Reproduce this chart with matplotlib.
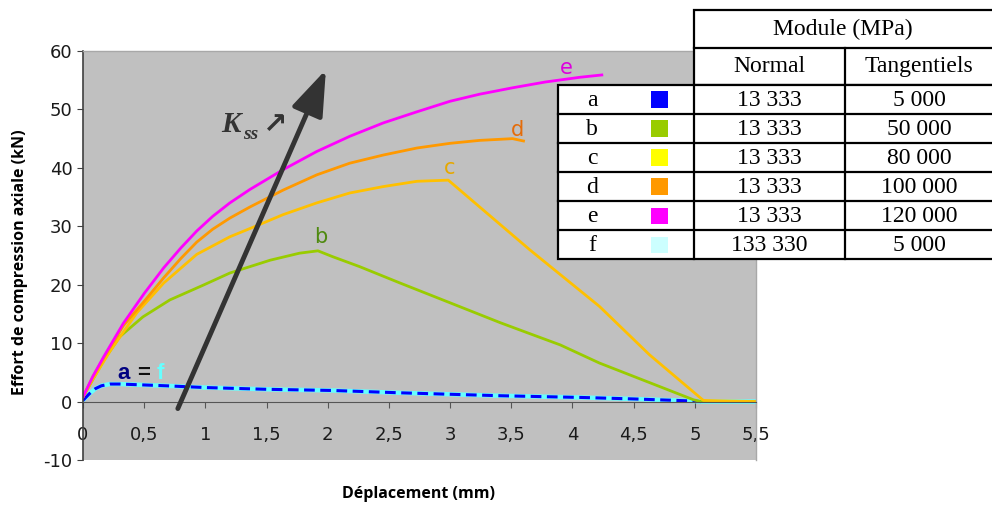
import matplotlib
matplotlib.use('Agg')
import matplotlib.pyplot as plt
from matplotlib.patches import Rectangle

plt.rcParams['axes.unicode_minus'] = False

# curves: displacement (mm) / axial force (kN)
e_x = [0, 0.08, 0.17, 0.33, 0.5, 0.66, 0.8, 0.93, 1.06, 1.2, 1.364, 1.636, 1.91, 2.18, 2.455, 2.73, 3.0, 3.24, 3.51, 3.78, 4.06, 4.24]
e_y = [0.8, 4.3, 7.7, 13.4, 18.5, 22.9, 26.3, 29.2, 31.7, 34.0, 36.3, 39.7, 42.8, 45.4, 47.7, 49.6, 51.4, 52.6, 53.7, 54.7, 55.5, 55.9]

d_x = [0, 0.08, 0.17, 0.33, 0.51, 0.66, 0.8, 0.93, 1.06, 1.2, 1.364, 1.636, 1.91, 2.18, 2.455, 2.73, 3.0, 3.24, 3.51, 3.6]
d_y = [0.8, 4.2, 7.5, 13.0, 17.4, 21.2, 24.5, 27.3, 29.5, 31.4, 33.3, 36.2, 38.8, 40.8, 42.2, 43.4, 44.2, 44.7, 45.0, 44.6]

c_x = [0, 0.08, 0.22, 0.44, 0.66, 0.93, 1.2, 1.42, 1.636, 1.91, 2.18, 2.455, 2.73, 2.985, 3.65, 4.22, 4.63, 5.07, 5.5]
c_y = [0.8, 3.8, 8.6, 15.2, 20.3, 25.2, 28.2, 30.1, 32.0, 34.0, 35.7, 36.8, 37.7, 37.9, 26.0, 16.3, 8.0, 0.2, 0.0]

b_x = [0, 0.17, 0.3, 0.49, 0.71, 0.98, 1.2, 1.53, 1.77, 1.92, 2.04, 2.26, 2.59, 2.94, 3.41, 3.68, 3.9, 4.22, 4.99, 5.05, 5.5]
b_y = [0.8, 7.1, 11.1, 14.5, 17.4, 19.9, 22.0, 24.2, 25.4, 25.8, 24.8, 23.1, 20.3, 17.4, 13.5, 11.4, 9.7, 6.6, 0.3, 0.0, 0.0]

a_x = [0, 0.05, 0.1, 0.15, 0.22, 0.3, 0.68, 1.0, 1.5, 2.04, 2.59, 3.0, 3.41, 4.08, 4.5, 4.98, 5.05]
a_y = [0.2, 1.3, 2.2, 2.7, 3.0, 3.0, 2.7, 2.4, 2.1, 1.9, 1.5, 1.25, 1.0, 0.7, 0.45, 0.1, 0.0]
f_x = a_x + [5.5]
f_y = a_y + [0.0]

# legend table
tab_names = ['a', 'b', 'c', 'd', 'e', 'f']
tab_colors = ['#0000ff', '#99cc00', '#ffff00', '#ff9900', '#ff00ff', '#ccffff']
tab_normal = ['13 333', '13 333', '13 333', '13 333', '13 333', '133 330']
tab_tang = ['5 000', '50 000', '80 000', '100 000', '120 000', '5 000']

xticks = [0, 0.5, 1, 1.5, 2, 2.5, 3, 3.5, 4, 4.5, 5, 5.5]
yticks = [-10, 0, 10, 20, 30, 40, 50, 60]

fig = plt.figure(figsize=(9.92, 5.09), dpi=100)
ax = fig.add_axes([83/992, 1-460/509, 673/992, 409/509])
ax.set_facecolor('#c0c0c0')

ax.plot(f_x, f_y, color='#66ffff', lw=3.2, solid_capstyle='butt')
ax.plot(a_x, a_y, color='#0000ff', lw=2.2, dashes=(3.5, 1.8))
ax.plot(b_x, b_y, color='#99cc00', lw=2)
ax.plot(c_x, c_y, color='#ffc000', lw=2)
ax.plot(d_x, d_y, color='#ff9900', lw=2)
ax.plot(e_x, e_y, color='#ff00ff', lw=2)

ax.set_xlim(0, 5.5)
ax.set_ylim(-10, 60)
ax.set_xticks(xticks)
ax.set_xticklabels([str(t).replace('.', ',') if t != int(t) else str(int(t)) for t in xticks])
ax.set_yticks(yticks)

ax.spines['bottom'].set_position(('data', 0))
ax.spines['bottom'].set_color('#555555')
ax.spines['left'].set_color('#404040')
ax.spines['left'].set_linewidth(1.2)
for s in ['top', 'right']:
    ax.spines[s].set_color('#a8a8a8')
    ax.spines[s].set_linewidth(1)
ax.tick_params(axis='x', direction='out', length=4.5, color='#555555', pad=13,
               labelsize=13, labelcolor='#1a1a1a')
ax.tick_params(axis='y', direction='out', length=4.5, color='#404040', pad=3,
               labelsize=13, labelcolor='#1a1a1a')

# curve labels
ax.text(3.95, 55.4, 'e', color='#dd00dd', fontsize=15, ha='center', va='bottom')
ax.text(3.55, 44.8, 'd', color='#e46c0a', fontsize=15, ha='center', va='bottom')
ax.text(3.0, 38.3, 'c', color='#e6a800', fontsize=15, ha='center', va='bottom')
ax.text(1.94, 26.4, 'b', color='#4f8a10', fontsize=15, ha='center', va='bottom')
ax.text(0.28, 3.8, 'a', color='#000080', fontsize=16, fontweight='bold', family='Liberation Sans')
ax.text(0.44, 3.8, '=', color='#111111', fontsize=16, fontweight='bold', family='Liberation Sans')
ax.text(0.6, 3.8, 'f', color='#66ffff', fontsize=16, fontweight='bold', family='Liberation Sans')

# K_ss arrow
ax.annotate('', xy=(1.985, 56.8), xytext=(0.775, -1.2),
            arrowprops=dict(arrowstyle='-|>,head_length=1.4,head_width=0.5',
                            mutation_scale=20, lw=3.5, color='#333333',
                            shrinkA=0, shrinkB=0))
ax.text(1.13, 46.2, 'K', family='Liberation Serif', fontsize=21, fontweight='bold',
        style='italic', color='#333333')
ax.text(1.31, 44.9, 'ss', family='Liberation Serif', fontsize=14, fontweight='bold',
        style='italic', color='#333333')
ax.text(1.47, 46.0, '\u2197', family='DejaVu Sans', fontsize=21, fontweight='bold',
        color='#333333')

fig.text(20/992, 1-262/509, 'Effort de compression axiale (kN)', rotation=90,
         ha='center', va='center', family='Open Sans', fontweight='bold', fontsize=11.5)
fig.text(418/992, 1-494/509, 'Déplacement (mm)', ha='center', va='center',
         family='Open Sans', fontweight='bold', fontsize=11.5)

# table drawn in pixel coordinates on top of everything
tb = fig.add_axes([0, 0, 1, 1], zorder=5)
tb.set_xlim(0, 992)
tb.set_ylim(509, 0)
tb.axis('off')
lw = 1.6
row_top = 85
row_h = 29.08
tb.add_patch(Rectangle((694, 10), 305, row_top - 10, fc='white', ec='black', lw=lw))
tb.add_patch(Rectangle((558, row_top), 441, row_h * len(tab_names), fc='white', ec='black', lw=lw))
tb.plot([694, 999], [47.7, 47.7], color='black', lw=lw)
tb.plot([845, 845], [47.7, row_top + row_h * len(tab_names)], color='black', lw=lw)
tb.plot([694, 694], [row_top, row_top + row_h * len(tab_names)], color='black', lw=lw)
tfont = dict(family='Liberation Serif', fontsize=17, ha='center', va='center')
tb.text(843, 29, 'Module (MPa)', **tfont)
tb.text(769.5, 66, 'Normal', **tfont)
tb.text(919, 66, 'Tangentiels', **tfont)
for i, name in enumerate(tab_names):
    y0 = row_top + i * row_h
    if i > 0:
        tb.plot([558, 999], [y0, y0], color='black', lw=lw)
    yc = y0 + row_h / 2
    tb.text(592, yc + 1, name, **tfont)
    tb.add_patch(Rectangle((651, yc - 8.3), 17, 16.6, fc=tab_colors[i], ec='none'))
    tb.text(769.5, yc + 1, tab_normal[i], **tfont)
    tb.text(919, yc + 1, tab_tang[i], **tfont)

fig.savefig('out.png', dpi=100)
